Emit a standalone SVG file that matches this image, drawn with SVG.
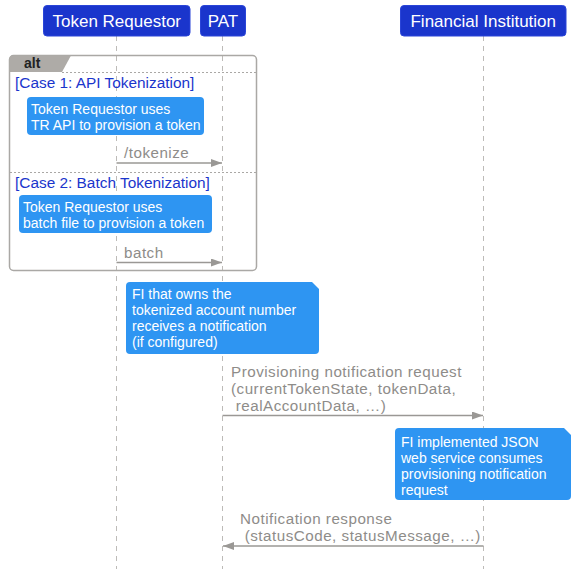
<svg xmlns="http://www.w3.org/2000/svg" width="576" height="569" viewBox="0 0 576 569">
<defs>
<style>
text{font-family:"Liberation Sans",Arial,sans-serif}
.pbox{fill:#1a35cc;stroke:#2a45d8;stroke-width:1}
.ptxt{fill:#ffffff;font-size:17px;text-anchor:middle}
.life{stroke:#bdbbb8;stroke-width:1;stroke-dasharray:5 5;fill:none}
.note{fill:#2e95f2}
.ntxt{fill:#ffffff;font-size:14px}
.msg{stroke:#9a9895;stroke-width:1.5;fill:none}
.mtxt{fill:#8e8c89;font-size:15.2px;letter-spacing:0.5px}
.case{fill:#1a35cc;font-size:15.4px}
.sep{stroke:#aaa8a5;stroke-width:1;stroke-dasharray:2 2}
</style>
<marker id="ah" viewBox="0 0 11 8" refX="11" refY="4" markerWidth="11" markerHeight="8" markerUnits="userSpaceOnUse" orient="auto">
<path d="M0,0 L11,4 L0,8 Z" fill="#9a9895"/>
</marker>
</defs>
<rect width="576" height="569" fill="#ffffff"/>

<g id="lifelines">
<line class="life" x1="116.5" y1="36" x2="116.5" y2="569"/>
<line class="life" x1="222.5" y1="36" x2="222.5" y2="569"/>
<line class="life" x1="483.5" y1="36" x2="483.5" y2="569"/>
</g>

<g id="p-token-requestor">
<rect class="pbox" x="43.5" y="5.5" width="146.5" height="30.5" rx="3.5"/>
<text class="ptxt" x="116.75" y="27">Token Requestor</text>
</g>
<g id="p-pat">
<rect class="pbox" x="200.5" y="5.5" width="45" height="30.5" rx="3.5"/>
<text class="ptxt" x="223" y="27">PAT</text>
</g>
<g id="p-fi">
<rect class="pbox" x="400.5" y="5.5" width="165.5" height="30.5" rx="3.5"/>
<text class="ptxt" x="483.25" y="27">Financial Institution</text>
</g>

<g id="alt-frame">
<rect x="9.5" y="55.5" width="247" height="215" rx="4" fill="none" stroke="#aaa8a5" stroke-width="1.5"/>
<path d="M9.5,72 L9.5,59.5 Q9.5,55.5 13.5,55.5 L71,55.5 L62,72 Z" fill="#aeaba7"/>
<text x="24" y="68" font-size="14px" font-weight="bold" fill="#222222">alt</text>
<line class="sep" x1="62" y1="72.5" x2="256" y2="72.5"/>
<text class="case" x="15" y="88">[Case 1: API Tokenization]</text>
<line class="sep" x1="10" y1="172.5" x2="256" y2="172.5"/>
<text class="case" x="15" y="188">[Case 2: Batch Tokenization]</text>
</g>

<g id="note-1">
<rect class="note" x="27" y="97" width="177" height="38" rx="4"/>
<text class="ntxt" x="31" y="114">Token Requestor uses</text>
<text class="ntxt" x="31" y="130">TR API to provision a token</text>
</g>
<g id="note-2">
<rect class="note" x="19" y="195" width="193" height="38" rx="4"/>
<text class="ntxt" x="23" y="212">Token Requestor uses</text>
<text class="ntxt" x="23" y="228">batch file to provision a token</text>
</g>
<g id="note-3">
<path class="note" d="M130,282 L312,282 L319,289 L319,350 Q319,354 315,354 L130,354 Q126,354 126,350 L126,286 Q126,282 130,282 Z"/>
<text class="ntxt" x="132" y="299">FI that owns the</text>
<text class="ntxt" x="132" y="315">tokenized account number</text>
<text class="ntxt" x="132" y="331">receives a notification</text>
<text class="ntxt" x="132" y="347">(if configured)</text>
</g>
<g id="note-4">
<path class="note" d="M399,428 L564,428 L571,435 L571,496 Q571,500 567,500 L399,500 Q395,500 395,496 L395,432 Q395,428 399,428 Z"/>
<text class="ntxt" x="401" y="447">FI implemented JSON</text>
<text class="ntxt" x="401" y="463">web service consumes</text>
<text class="ntxt" x="401" y="479">provisioning notification</text>
<text class="ntxt" x="401" y="495">request</text>
</g>

<g id="connectors">
<line class="msg" x1="116.5" y1="163" x2="222" y2="163" marker-end="url(#ah)"/>
<text class="mtxt" x="124" y="158">/tokenize</text>
<line class="msg" x1="116.5" y1="262.5" x2="222" y2="262.5" marker-end="url(#ah)"/>
<text class="mtxt" x="124" y="258">batch</text>
<line class="msg" x1="222.5" y1="415.5" x2="483" y2="415.5" marker-end="url(#ah)"/>
<text class="mtxt" x="231" y="377">Provisioning notification request</text>
<text class="mtxt" x="231" y="394">(currentTokenState, tokenData,</text>
<text class="mtxt" x="231" y="411" xml:space="preserve"> realAccountData, …)</text>
<line class="msg" x1="483.5" y1="546" x2="223" y2="546" marker-end="url(#ah)"/>
<text class="mtxt" x="240" y="524">Notification response</text>
<text class="mtxt" x="240" y="541" xml:space="preserve"> (statusCode, statusMessage, …)</text>
</g>
</svg>
